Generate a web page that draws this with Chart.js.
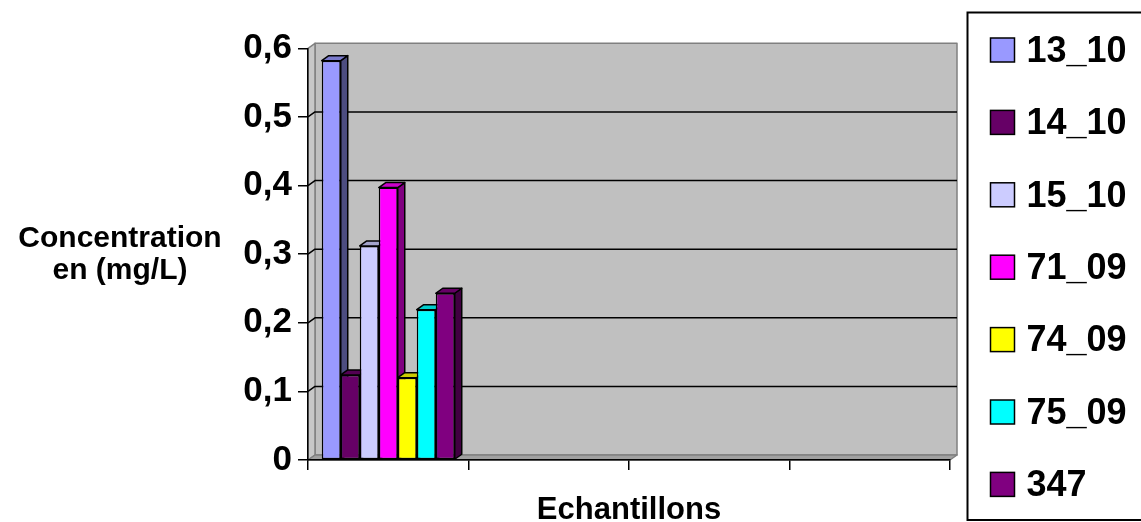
<!DOCTYPE html>
<html>
<head>
<meta charset="utf-8">
<title>Concentration par échantillon</title>
<script src="https://cdn.jsdelivr.net/npm/chart.js@4/dist/chart.umd.min.js"></script>
<style>
  html, body { margin: 0; padding: 0; background: #ffffff; }
  #c { display: block; }
</style>
</head>
<body>
<canvas id="c" width="1141" height="522"></canvas>
<script>
// ---- data ----
const categories = ['', '', '', ''];
const seriesNames = ['13_10', '14_10', '15_10', '71_09', '74_09', '75_09', '347'];
const seriesValues = [0.582, 0.124, 0.312, 0.397, 0.12, 0.219, 0.243];
const seriesColors = ['#9999FF', '#660066', '#CCCCFF', '#FF00FF', '#FFFF00', '#00FFFF', '#800080'];
const yTitleLines = ['Concentration', 'en (mg/L)'];
const xTitle = 'Echantillons';

// ---- look ----
const FONT = "'Liberation Sans', Arial, Helvetica, sans-serif";
const DEPTH = { dx: 7, dy: -5 };

function shade(hex, f) {
  const n = parseInt(hex.slice(1), 16);
  const r = Math.round(((n >> 16) & 255) * f);
  const g = Math.round(((n >> 8) & 255) * f);
  const b = Math.round((n & 255) * f);
  return `rgb(${r},${g},${b})`;
}

function poly(ctx, pts, fill, stroke, lw) {
  ctx.beginPath();
  ctx.moveTo(pts[0][0], pts[0][1]);
  for (let k = 1; k < pts.length; k++) ctx.lineTo(pts[k][0], pts[k][1]);
  ctx.closePath();
  if (fill) { ctx.fillStyle = fill; ctx.fill(); }
  if (stroke) { ctx.strokeStyle = stroke; ctx.lineWidth = lw; ctx.stroke(); }
}

// back wall, side wall, floor and wall gridlines of the 3-D box
const wallsPlugin = {
  id: 'walls',
  beforeDraw(chart) {
    const ctx = chart.ctx;
    const { left, right, top, bottom } = chart.chartArea;
    const { dx, dy } = DEPTH;
    const ys = chart.scales.y;
    ctx.save();
    ctx.lineJoin = 'round';
    // back wall
    poly(ctx, [[left + dx, top + dy], [right + dx, top + dy], [right + dx, bottom + dy], [left + dx, bottom + dy]],
      '#C0C0C0', '#808080', 1.5);
    // left wall
    poly(ctx, [[left, top], [left + dx, top + dy], [left + dx, bottom + dy], [left, bottom]],
      '#C8C8C8', '#808080', 1.5);
    // floor
    poly(ctx, [[left, bottom], [left + dx, bottom + dy], [right + dx, bottom + dy], [right, bottom]],
      '#A0A0A0', '#808080', 1.5);
    // gridlines across the side wall and back wall
    ctx.strokeStyle = '#000000';
    ctx.lineWidth = 1.5;
    ys.ticks.forEach(t => {
      if (t.value <= ys.min || t.value >= ys.max) return;
      const y = ys.getPixelForValue(t.value);
      ctx.beginPath();
      ctx.moveTo(left, y);
      ctx.lineTo(left + dx, y + dy);
      ctx.lineTo(right + dx, y + dy);
      ctx.stroke();
    });
    ctx.restore();
  }
};

// right side and top faces of each column
const depthPlugin = {
  id: 'columnDepth',
  beforeDatasetsDraw(chart) {
    const ctx = chart.ctx;
    const { dx, dy } = DEPTH;
    ctx.save();
    ctx.lineJoin = 'round';
    chart.data.datasets.forEach((ds, i) => {
      const meta = chart.getDatasetMeta(i);
      meta.data.forEach((bar, j) => {
        if (ds.data[j] == null) return;
        const { x, y, base, width } = bar.getProps(['x', 'y', 'base', 'width'], true);
        const xl = x - width / 2, xr = x + width / 2;
        const col = seriesColors[i];
        poly(ctx, [[xr, y], [xr + dx, y + dy], [xr + dx, base + dy], [xr, base]], shade(col, 0.5), '#000', 1.5);
        poly(ctx, [[xl, y], [xl + dx, y + dy], [xr + dx, y + dy], [xr, y]], shade(col, 0.8), '#000', 1.5);
      });
    });
    ctx.restore();
  }
};

// axis titles and the boxed legend on the right
const textPlugin = {
  id: 'texts',
  afterDraw(chart) {
    const ctx = chart.ctx;
    const { left, right, bottom } = chart.chartArea;
    ctx.save();
    ctx.fillStyle = '#000';
    ctx.textBaseline = 'alphabetic';

    // y-axis title, horizontal, two lines
    ctx.font = `bold 30px ${FONT}`;
    ctx.textAlign = 'center';
    yTitleLines.forEach((line, k) => ctx.fillText(line, 120, 246.5 + k * 32));

    // x-axis title, centred under the axis
    ctx.font = `bold 31px ${FONT}`;
    ctx.fillText(xTitle, (left + right) / 2, bottom + 58.5);

    // legend frame
    const lgLeft = right + DEPTH.dx + 10.5;
    ctx.strokeStyle = '#000';
    ctx.lineWidth = 2;
    ctx.strokeRect(lgLeft, 12.5, chart.width - lgLeft + 10, 507.5);

    // legend entries
    ctx.font = `bold 36px ${FONT}`;
    ctx.textAlign = 'left';
    seriesNames.forEach((name, i) => {
      const cy = 50 + i * 72.4;
      ctx.fillStyle = seriesColors[i];
      ctx.fillRect(lgLeft + 23, cy - 12, 24, 24);
      ctx.lineWidth = 1.5;
      ctx.strokeRect(lgLeft + 23, cy - 12, 24, 24);
      ctx.fillStyle = '#000';
      ctx.fillText(name, lgLeft + 59, cy + 11.7);
    });
    ctx.restore();
  }
};

new Chart(document.getElementById('c'), {
  type: 'bar',
  data: {
    labels: categories,
    datasets: seriesNames.map((name, i) => ({
      label: name,
      data: categories.map((_, j) => (j === 0 ? seriesValues[i] : null)),
      backgroundColor: seriesColors[i],
      borderColor: '#000000',
      borderWidth: 1.5,
      borderSkipped: false,
      categoryPercentage: 0.8287,
      barPercentage: 1
    }))
  },
  options: {
    responsive: false,
    animation: false,
    devicePixelRatio: 1,
    layout: { padding: { top: 48.3, right: 191, bottom: 0, left: 0 } },
    plugins: {
      legend: { display: false },
      tooltip: { enabled: false }
    },
    scales: {
      x: {
        grid: { offset: true, drawOnChartArea: false, drawTicks: true, tickLength: 10, color: '#000', lineWidth: 1.5 },
        border: { display: true, color: '#000', width: 1.5 },
        ticks: { display: true, font: { size: 1 } },
        afterFit(scale) { scale.height = 62; }
      },
      y: {
        min: 0,
        max: 0.6,
        grid: { drawOnChartArea: false, drawTicks: true, tickLength: 10, color: '#000', lineWidth: 1.5 },
        border: { display: true, color: '#000', width: 1.5 },
        ticks: {
          stepSize: 0.1,
          padding: 6,
          color: '#000',
          font: { family: FONT, size: 35, weight: 'bold' },
          callback: v => (v === 0 ? '0' : Number(v).toFixed(1).replace('.', ','))
        },
        afterFit(scale) { scale.width = 308; }
      }
    }
  },
  plugins: [wallsPlugin, depthPlugin, textPlugin]
});
</script>
</body>
</html>
